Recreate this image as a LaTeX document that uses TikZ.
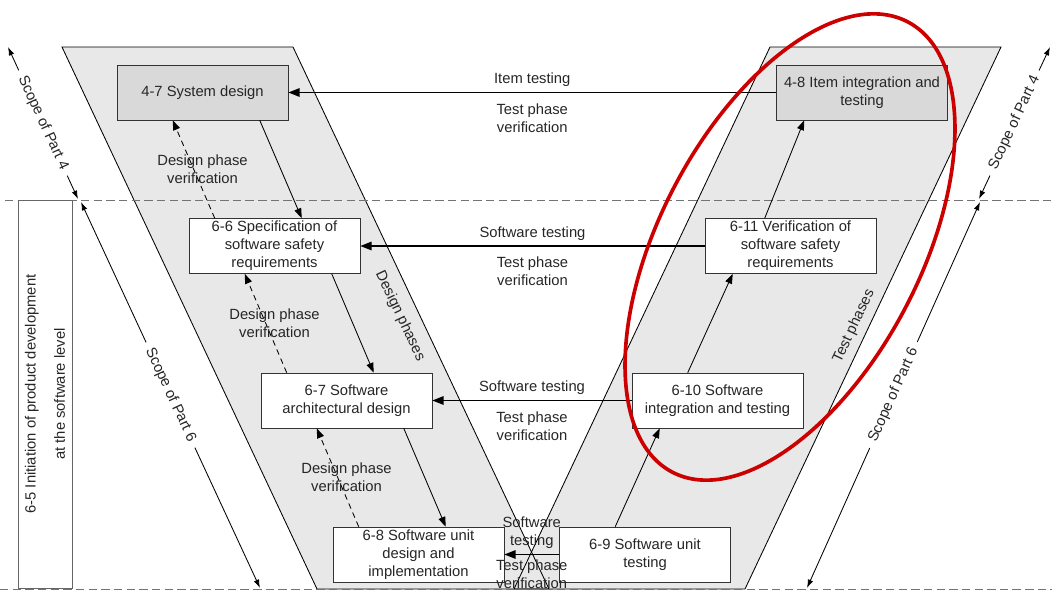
\documentclass[tikz,border=0pt]{standalone}
\usepackage{fontspec}
\setmainfont{Liberation Sans}
\usetikzlibrary{arrows.meta}
\definecolor{ringred}{RGB}{204,0,0}

\begin{document}
\begin{tikzpicture}[x=0.025cm, y=-0.025cm,
  font=\fontsize{10.5}{12.8}\selectfont,
  phasebox/.style={draw=black!80, fill=white, minimum width=4.275cm, minimum height=1.375cm, inner sep=0pt, align=center, text=black!85},
  topbox/.style={phasebox, fill=black!15},
  band/.style={fill=black!9},
  bandline/.style={draw=black, line width=0.6pt},
  dnarr/.style={line width=0.6pt, -{Triangle[length=7pt,width=5pt]}},
  verarr/.style={dnarr, dash pattern=on 4pt off 3pt},
  testarr/.style={line width=1.1pt, -{Triangle[length=8pt,width=6pt]}},
  lbl/.style={align=center, text=black!85},
  sepline/.style={draw=black!55, line width=0.6pt, dash pattern=on 6pt off 3pt},
  scopearr/.style={line width=0.6pt, {Latex[length=6pt,width=4pt]}-{Latex[length=6pt,width=4pt]}},
  scopelbl/.style={sloped, fill=white, inner sep=5pt, text=black!85},
  ring/.style={draw=ringred, line width=2.6pt}
]
\useasboundingbox (0,0) rectangle (1052,592);

\fill[band] (62,47) -- (293,47) -- (549,589) -- (317,589) -- cycle;
\fill[band] (770,47) -- (1001,47) -- (745,589) -- (514,589) -- cycle;
\draw[bandline] (62,47) -- (293,47) -- (549,589) -- (317,589) -- cycle;
\draw[bandline] (770,47) -- (1001,47) -- (745,589) -- (514,589) -- cycle;

\draw[sepline] (5,200) -- (1052,200);
\draw[sepline] (0,589) -- (1052,589);

\node[lbl, rotate=-64.7] (dsgnph) at (400,316) {Design phases};
\node[lbl, rotate=64.7] (testph) at (854,326) {Test phases};

\node[draw=black!60, rotate=90, minimum width=9.7cm, minimum height=1.35cm, inner sep=0pt, lbl] (initbox) at (45,394)
  {6-5 Initiation of product development\\[8pt]at the software level};

\coordinate (p4lt) at (8,47);
\coordinate (p4lb) at (78,199);
\coordinate (p6lt) at (81,202);
\coordinate (p6lb) at (260,588);
\coordinate (p4rt) at (1050,47);
\coordinate (p4rb) at (979,199);
\coordinate (p6rt) at (980,202);
\coordinate (p6rb) at (807,588);
\draw[scopearr] (p4lt) -- node[scopelbl] (s4l) {Scope of Part 4} (p4lb);
\draw[scopearr] (p6lt) -- node[scopelbl] (s6l) {Scope of Part 6} (p6lb);
\draw[scopearr] (p4rb) -- node[scopelbl] (s4r) {Scope of Part 4} (p4rt);
\draw[scopearr] (p6rb) -- node[scopelbl] (s6r) {Scope of Part 6} (p6rt);

\node[topbox] (sysdes) at (202.5,92.5) {4-7 System design};
\node[topbox] (itemint) at (862,92.5) {4-8 Item integration and\\testing};
\node[phasebox] (swreq) at (274.5,246) {6-6 Specification of\\software safety\\requirements};
\node[phasebox] (swver) at (790.5,246) {6-11 Verification of\\software safety\\requirements};
\node[phasebox] (swarch) at (346.5,400.5) {6-7 Software\\architectural design};
\node[phasebox] (swint) at (717.5,400.5) {6-10 Software\\integration and testing};
\node[phasebox] (swunit) at (418.5,554.5) {6-8 Software unit\\design and\\implementation};
\node[phasebox] (swtest) at (645,554.5) {6-9 Software unit\\testing};

\draw[testarr] (itemint) -- node[lbl, above] {Item testing} node[lbl, below=4pt] {Test phase\\verification} (sysdes);
\draw[testarr] (swver) -- node[lbl, above] {Software testing} node[lbl, below=4pt] {Test phase\\verification} (swreq);
\draw[testarr] (swint) -- node[lbl, above] {Software testing} node[lbl, below=4pt] {Test phase\\verification} (swarch);
\draw[testarr] (swtest) -- node[lbl, above] {Software\\testing} node[lbl, below=0pt] {Test phase\\verification} (swunit);

\draw[dnarr] ([xshift=3.575cm]sysdes.south west) -- ([xshift=2.825cm]swreq.north west);
\draw[dnarr] ([xshift=3.575cm]swreq.south west) -- ([xshift=2.825cm]swarch.north west);
\draw[dnarr] ([xshift=3.575cm]swarch.south west) -- ([xshift=2.825cm]swunit.north west);

\draw[verarr] ([xshift=0.65cm]swreq.north west) -- node[lbl, xshift=0.22cm] {Design phase\\verification} ([xshift=1.4cm]sysdes.south west);
\draw[verarr] ([xshift=0.65cm]swarch.north west) -- node[lbl, xshift=0.22cm] {Design phase\\verification} ([xshift=1.4cm]swreq.south west);
\draw[verarr] ([xshift=0.65cm]swunit.north west) -- node[lbl, xshift=0.22cm] {Design phase\\verification} ([xshift=1.4cm]swarch.south west);

\draw[dnarr] ([xshift=1.4cm]swtest.north west) -- ([xshift=0.7cm]swint.south west);
\draw[dnarr] ([xshift=1.4cm]swint.north west) -- ([xshift=0.7cm]swver.south west);
\draw[dnarr] ([xshift=1.5cm]swver.north west) -- ([xshift=0.7cm]itemint.south west);

\draw[ring, rotate around={62.4:(790,247)}] (790,247) ellipse [x radius=6.35cm, y radius=3.26cm];
\end{tikzpicture}
\end{document}
